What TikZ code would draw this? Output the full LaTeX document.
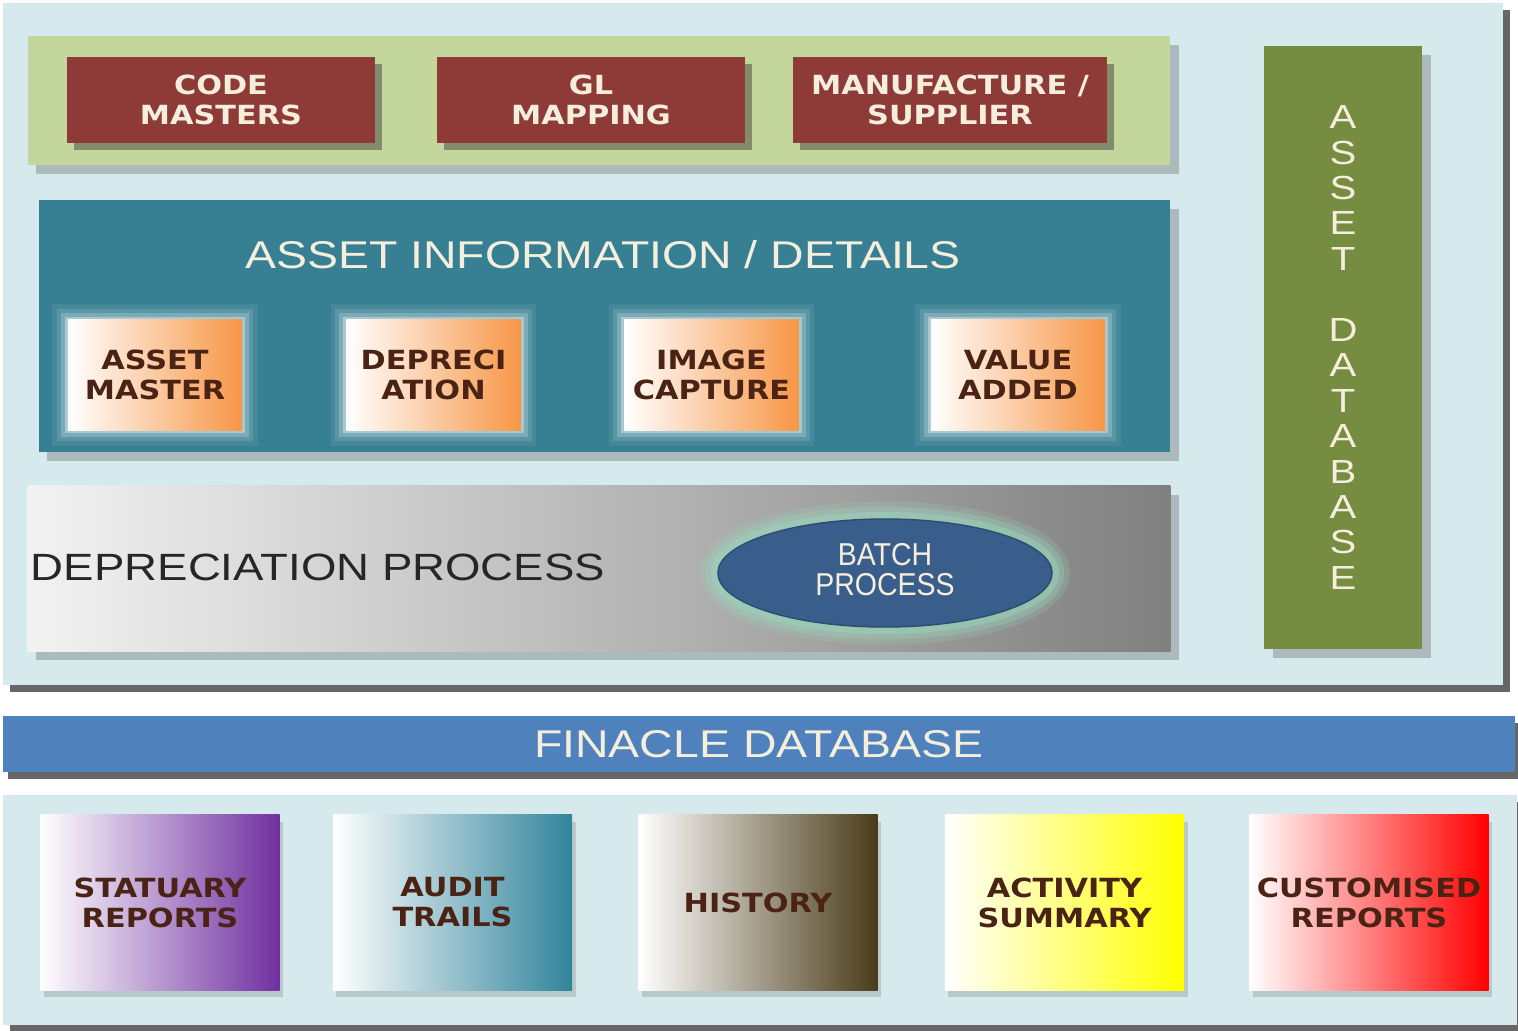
\documentclass[tikz,border=0pt]{standalone}
\usepackage{fontspec}
\setmainfont{DejaVu Sans}
\newfontfamily\boxfont[FakeStretch=1.15]{DejaVu Sans}
\newfontfamily\titlefont[FakeStretch=1.2]{Liberation Sans}
\newfontfamily\batchfont[FakeStretch=0.9]{Liberation Sans}
\usetikzlibrary{shadows,shapes.geometric}
\definecolor{panelblue}{HTML}{D6EAEE}
\definecolor{stripgreen}{HTML}{C3D69B}
\definecolor{boxred}{HTML}{8E3B37}
\definecolor{infoteal}{HTML}{377F93}
\definecolor{boxorange}{HTML}{F79646}
\definecolor{batchblue}{HTML}{3A5E8C}
\definecolor{glowgreen}{HTML}{98D8BC}
\definecolor{dbgreen}{HTML}{758C41}
\definecolor{finblue}{HTML}{4F81BD}
\definecolor{cream}{HTML}{F5EEDC}
\definecolor{boxbrown}{HTML}{4A2315}
\definecolor{reppurple}{HTML}{7030A0}
\definecolor{repteal}{HTML}{31849B}
\definecolor{repbrown}{HTML}{4A3C1A}

\begin{document}
\begin{tikzpicture}[x=0.01cm,y=-0.01cm,
  every node/.style={align=center,inner sep=0pt,outer sep=0pt},
  panel/.style={fill=panelblue,drop shadow={shadow xshift=2pt,shadow yshift=-2pt,opacity=.8,fill=black!75}},
  band/.style={drop shadow={shadow xshift=2.5pt,shadow yshift=-2.5pt,opacity=.3,fill=black!70}},
  boldtext/.style={font={\boxfont\bfseries\fontsize{7.5}{8.5}\selectfont}},
  lighttext/.style={font={\titlefont\fontsize{11}{13}\selectfont}},
  redbox/.style={boldtext,fill=boxred,text=cream,minimum height=0.86cm,
    drop shadow={shadow xshift=2pt,shadow yshift=-2pt,opacity=.45,fill=black!80}},
  glow/.style={preaction={draw=#1,line width=9pt,opacity=.07},
    preaction={draw=#1,line width=6.5pt,opacity=.12},
    preaction={draw=#1,line width=4pt,opacity=.2},
    preaction={draw=#1,line width=1.8pt,opacity=.35}},
  strongglow/.style={preaction={draw=#1,line width=10pt,opacity=.2},
    preaction={draw=#1,line width=7pt,opacity=.3},
    preaction={draw=#1,line width=4pt,opacity=.45}},
  infobox/.style={boldtext,glow=white,text=boxbrown,left color=white,right color=boxorange,
    minimum width=1.74cm,minimum height=1.10cm},
  report/.style={boldtext,text=boxbrown,left color=white,right color=#1,
    minimum width=2.39cm,minimum height=1.75cm,
    drop shadow={shadow xshift=1pt,shadow yshift=-2pt,opacity=.25,fill=black!60}}]

  \useasboundingbox[fill=white] (0,0) rectangle (1518,1030);

  % Asset panel and its layers
  \node[panel,minimum width=15.00cm,minimum height=6.82cm] (assetpanel) at (753,344) {};
  \node[band,fill=stripgreen,minimum width=11.42cm,minimum height=1.29cm] (masters) at (599,100.5) {};
  \node[redbox,minimum width=3.08cm] (codem) at (221,100) {CODE\\MASTERS};
  \node[redbox,minimum width=3.08cm] (glmap) at (591,100) {GL\\MAPPING};
  \node[redbox,minimum width=3.14cm] (manuf) at (950,100) {MANUFACTURE /\\SUPPLIER};

  \node[band,fill=infoteal,minimum width=11.31cm,minimum height=2.52cm] (assetinfo) at (604.5,326) {};
  \node[lighttext,text=cream] (infotitle) at (603,255) {ASSET INFORMATION / DETAILS};
  \node[infobox] (assetm) at (155,375) {ASSET\\MASTER};
  \node[infobox] (deprec) at (433.5,375) {DEPRECI\\ATION};
  \node[infobox] (imgcap) at (711.5,375) {IMAGE\\CAPTURE};
  \node[infobox] (valadd) at (1018,375) {VALUE\\ADDED};

  \node[band,left color=black!5,right color=black!50,minimum width=11.42cm,minimum height=1.65cm] (deprproc) at (599,568.5) {};
  \node[lighttext,text=black!85,anchor=west,font={\titlefont\fontsize{10.8}{13}\selectfont}] (deprtitle) at (31,567) {DEPRECIATION PROCESS};
  \node[ellipse,strongglow=glowgreen,fill=batchblue,draw=batchblue!80!black,thin,text=cream,
    font={\batchfont\fontsize{9}{8.6}\selectfont},minimum width=3.34cm,minimum height=1.08cm]
    (batch) at (885,573) {BATCH\\PROCESS\vphantom{Ag}};

  \node[band,fill=dbgreen,text=cream,minimum width=1.58cm,minimum height=6.03cm,
    font={\titlefont\fontsize{9.5}{10.08}\selectfont}] (assetdb) at (1343,347.5)
    {A\\S\\S\\E\\T\\~\\D\\A\\T\\A\\B\\A\\S\\E};

  % Finacle database bar
  \node[fill=finblue,text=cream,lighttext,minimum width=15.12cm,minimum height=0.56cm,
    drop shadow={shadow xshift=1.5pt,shadow yshift=-2pt,opacity=.8,fill=black!75}] (finacle) at (759,744) {FINACLE DATABASE};

  % Reports panel
  \node[panel,minimum width=15.14cm,minimum height=2.30cm] (reports) at (760,910) {};
  \node[report=reppurple] (statrep) at (160,902.5) {STATUARY\\REPORTS};
  \node[report=repteal] (audit) at (452.5,902.5) {AUDIT\\TRAILS};
  \node[report=repbrown] (history) at (758,902.5) {HISTORY};
  \node[report=yellow] (activity) at (1064.5,902.5) {ACTIVITY\\SUMMARY};
  \node[report=red] (custrep) at (1369,902.5) {CUSTOMISED\\REPORTS};
\end{tikzpicture}
\end{document}
